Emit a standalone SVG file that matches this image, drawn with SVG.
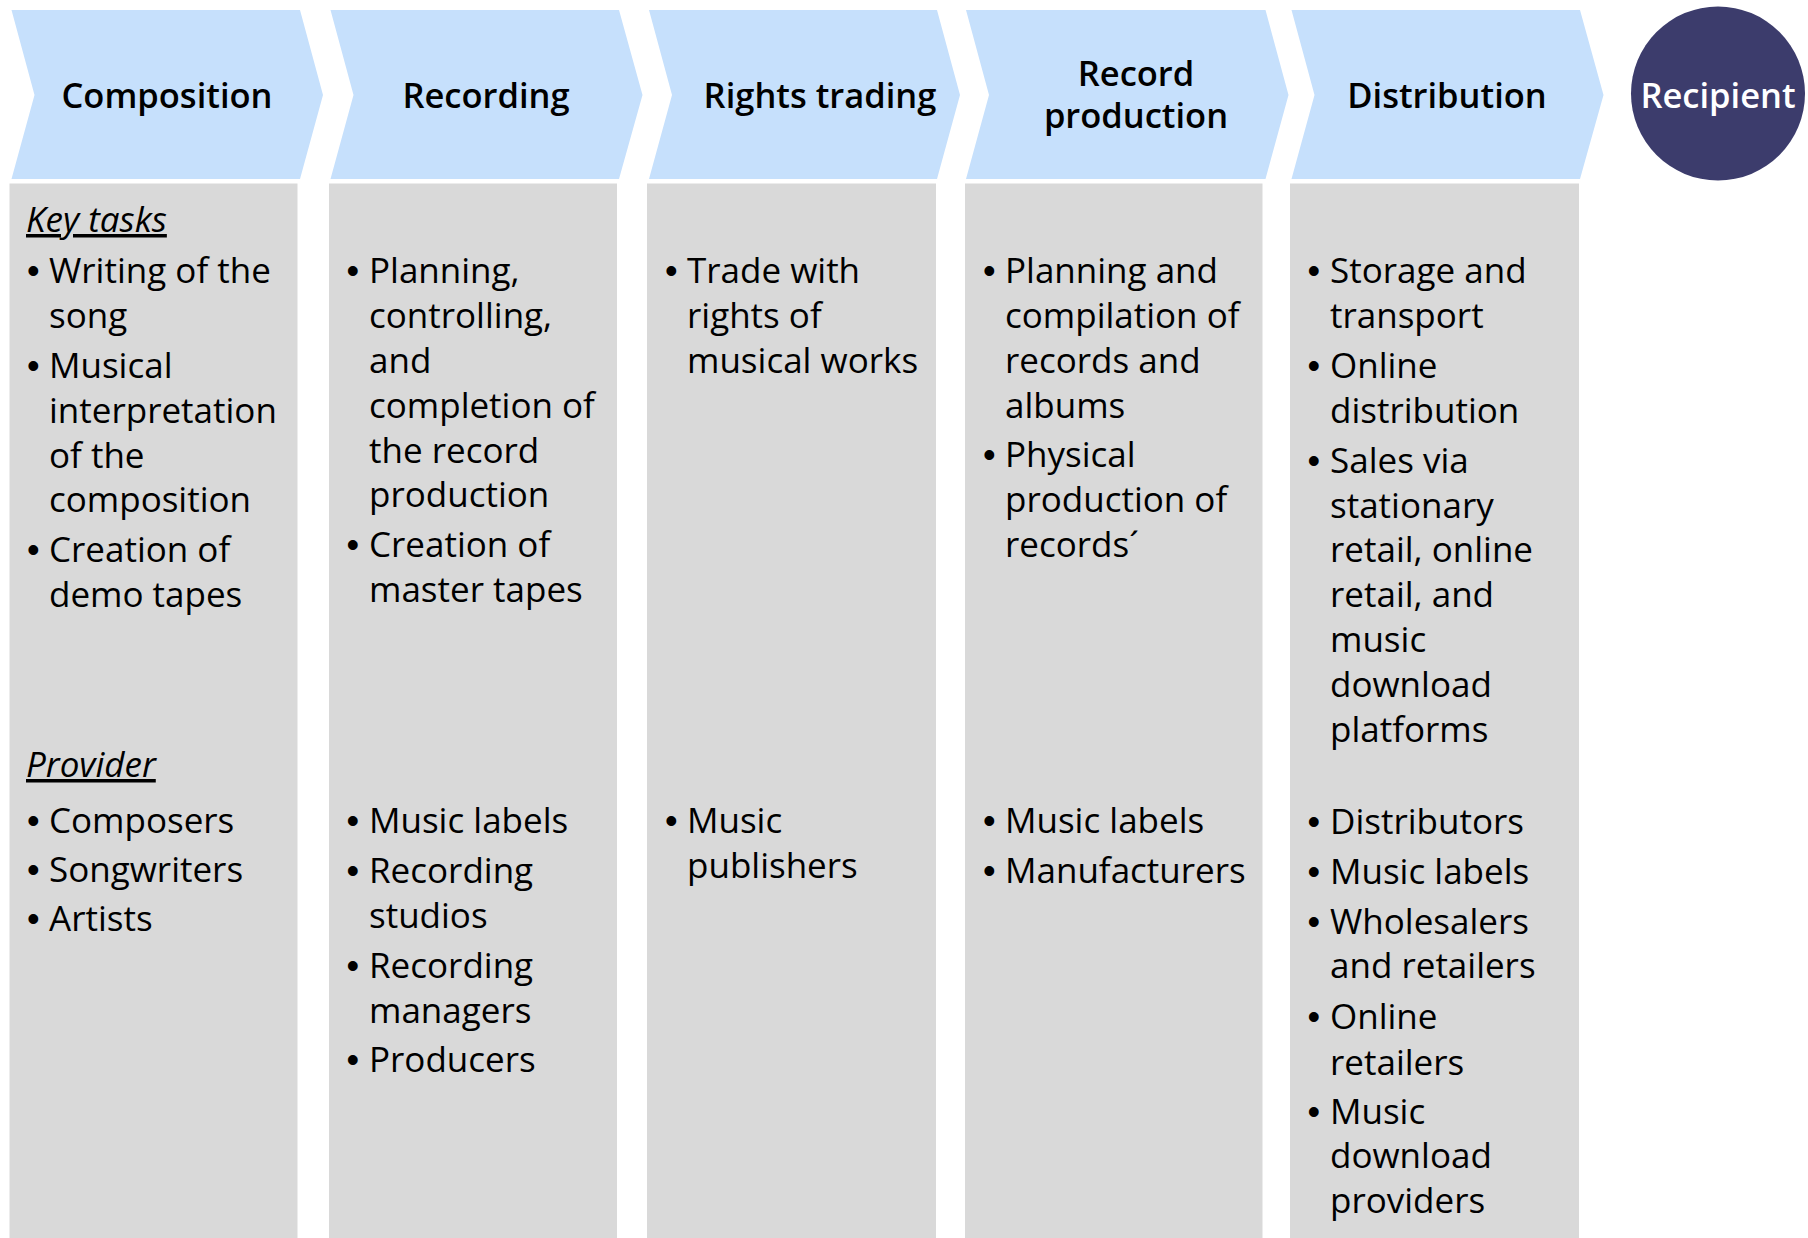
<svg xmlns="http://www.w3.org/2000/svg" width="1808" height="1238" viewBox="0 0 1808 1238">
<style>
.chev{fill:#C6E0FC}
.box{fill:#D9D9D9}
.hd{font-family:"Open Sans","Noto Sans","Liberation Sans",sans-serif;font-weight:600;font-size:34.5px;fill:#000;text-anchor:middle}
.rc{fill:#3C3C6C}
.rt{font-family:"Open Sans","Noto Sans","Liberation Sans",sans-serif;font-weight:600;font-size:34.5px;fill:#FFFFFF;text-anchor:middle}
.t{font-family:"Open Sans","Noto Sans","Liberation Sans",sans-serif;font-size:35px;fill:#000}
.b{font-family:"Liberation Sans",Arial,sans-serif;font-size:36px;fill:#000}
.sec{font-family:"Open Sans","Noto Sans","Liberation Sans",sans-serif;font-size:35px;font-style:italic;text-decoration:underline;fill:#000}
</style>
<rect width="1808" height="1238" fill="#FFFFFF"/>

<g id="composition">
<polygon class="chev" points="11.5,10 300,10 323,95 300,179 11.5,179 34.5,95"/>
<text class="hd" x="167" y="108">Composition</text>
<rect class="box" x="9.5" y="183.5" width="288" height="1054.5"/>
<text class="sec" x="26" y="232">Key tasks</text>
<g class="b">
<text x="27" y="283">•</text><text x="27" y="377.5">•</text><text x="27" y="562">•</text>
<text x="27" y="833">•</text><text x="27" y="882">•</text><text x="27" y="931">•</text>
</g>
<g class="t">
<text x="49" y="283">Writing of the</text>
<text x="49" y="328">song</text>
<text x="49" y="377.5">Musical</text>
<text x="49" y="422.5">interpretation</text>
<text x="49" y="467.5">of the</text>
<text x="49" y="512">composition</text>
<text x="49" y="562">Creation of</text>
<text x="49" y="607">demo tapes</text>
</g>
<text class="sec" x="26" y="777">Provider</text>
<g class="t">
<text x="49" y="833">Composers</text>
<text x="49" y="882">Songwriters</text>
<text x="49" y="931">Artists</text>
</g>
</g>

<g id="recording">
<polygon class="chev" points="330.5,10 619,10 642.5,95 619,179 330.5,179 353.5,95"/>
<text class="hd" x="486" y="108">Recording</text>
<rect class="box" x="329" y="183.5" width="288" height="1054.5"/>
<g class="b">
<text x="346.5" y="282.5">•</text><text x="346.5" y="557">•</text><text x="346.5" y="833">•</text>
<text x="346.5" y="883">•</text><text x="346.5" y="977.5">•</text><text x="346.5" y="1072">•</text>
</g>
<g class="t">
<text x="369" y="282.5">Planning,</text>
<text x="369" y="327.5">controlling,</text>
<text x="369" y="372.5">and</text>
<text x="369" y="417.5">completion of</text>
<text x="369" y="462.5">the record</text>
<text x="369" y="506.5">production</text>
<text x="369" y="557">Creation of</text>
<text x="369" y="602">master tapes</text>
<text x="369" y="833">Music labels</text>
<text x="369" y="883">Recording</text>
<text x="369" y="928">studios</text>
<text x="369" y="977.5">Recording</text>
<text x="369" y="1022.5">managers</text>
<text x="369" y="1072">Producers</text>
</g>
</g>

<g id="rights-trading">
<polygon class="chev" points="649,10 937,10 960,95 937,179 649,179 672,95"/>
<text class="hd" x="820" y="108">Rights trading</text>
<rect class="box" x="647" y="183.5" width="289" height="1054.5"/>
<g class="b">
<text x="665" y="282.5">•</text><text x="665" y="833">•</text>
</g>
<g class="t">
<text x="687" y="282.5">Trade with</text>
<text x="687" y="327.5">rights of</text>
<text x="687" y="372.5">musical works</text>
<text x="687" y="833">Music</text>
<text x="687" y="878">publishers</text>
</g>
</g>

<g id="record-production">
<polygon class="chev" points="966,10 1265.5,10 1288.5,95 1265.5,179 966,179 989,95"/>
<text class="hd" x="1136" y="86">Record</text>
<text class="hd" x="1136" y="128">production</text>
<rect class="box" x="965" y="183.5" width="297.5" height="1054.5"/>
<g class="b">
<text x="983" y="282.5">•</text><text x="983" y="467">•</text><text x="983" y="833">•</text><text x="983" y="883">•</text>
</g>
<g class="t">
<text x="1005" y="282.5">Planning and</text>
<text x="1005" y="327.5">compilation of</text>
<text x="1005" y="372.5">records and</text>
<text x="1005" y="417.5">albums</text>
<text x="1005" y="467">Physical</text>
<text x="1005" y="512">production of</text>
<text x="1005" y="557">records´</text>
<text x="1005" y="833">Music labels</text>
<text x="1005" y="883">Manufacturers</text>
</g>
</g>

<g id="distribution">
<polygon class="chev" points="1291.5,10 1580,10 1603.5,95 1580,179 1291.5,179 1314.5,95"/>
<text class="hd" x="1447" y="108">Distribution</text>
<rect class="box" x="1290" y="183.5" width="289" height="1054.5"/>
<g class="b">
<text x="1307.5" y="283">•</text><text x="1307.5" y="377.5">•</text><text x="1307.5" y="472.5">•</text>
<text x="1307.5" y="833.5">•</text><text x="1307.5" y="884">•</text><text x="1307.5" y="933.5">•</text>
<text x="1307.5" y="1029">•</text><text x="1307.5" y="1123.5">•</text>
</g>
<g class="t">
<text x="1330" y="283">Storage and</text>
<text x="1330" y="328">transport</text>
<text x="1330" y="377.5">Online</text>
<text x="1330" y="422.5">distribution</text>
<text x="1330" y="472.5">Sales via</text>
<text x="1330" y="517.5">stationary</text>
<text x="1330" y="562">retail, online</text>
<text x="1330" y="607">retail, and</text>
<text x="1330" y="652">music</text>
<text x="1330" y="697">download</text>
<text x="1330" y="742">platforms</text>
<text x="1330" y="833.5">Distributors</text>
<text x="1330" y="884">Music labels</text>
<text x="1330" y="933.5">Wholesalers</text>
<text x="1330" y="978">and retailers</text>
<text x="1330" y="1029">Online</text>
<text x="1330" y="1074.5">retailers</text>
<text x="1330" y="1123.5">Music</text>
<text x="1330" y="1168">download</text>
<text x="1330" y="1213">providers</text>
</g>
</g>

<g id="recipient">
<circle class="rc" cx="1718" cy="93.5" r="87"/>
<text class="rt" x="1718" y="107.5">Recipient</text>
</g>
</svg>
